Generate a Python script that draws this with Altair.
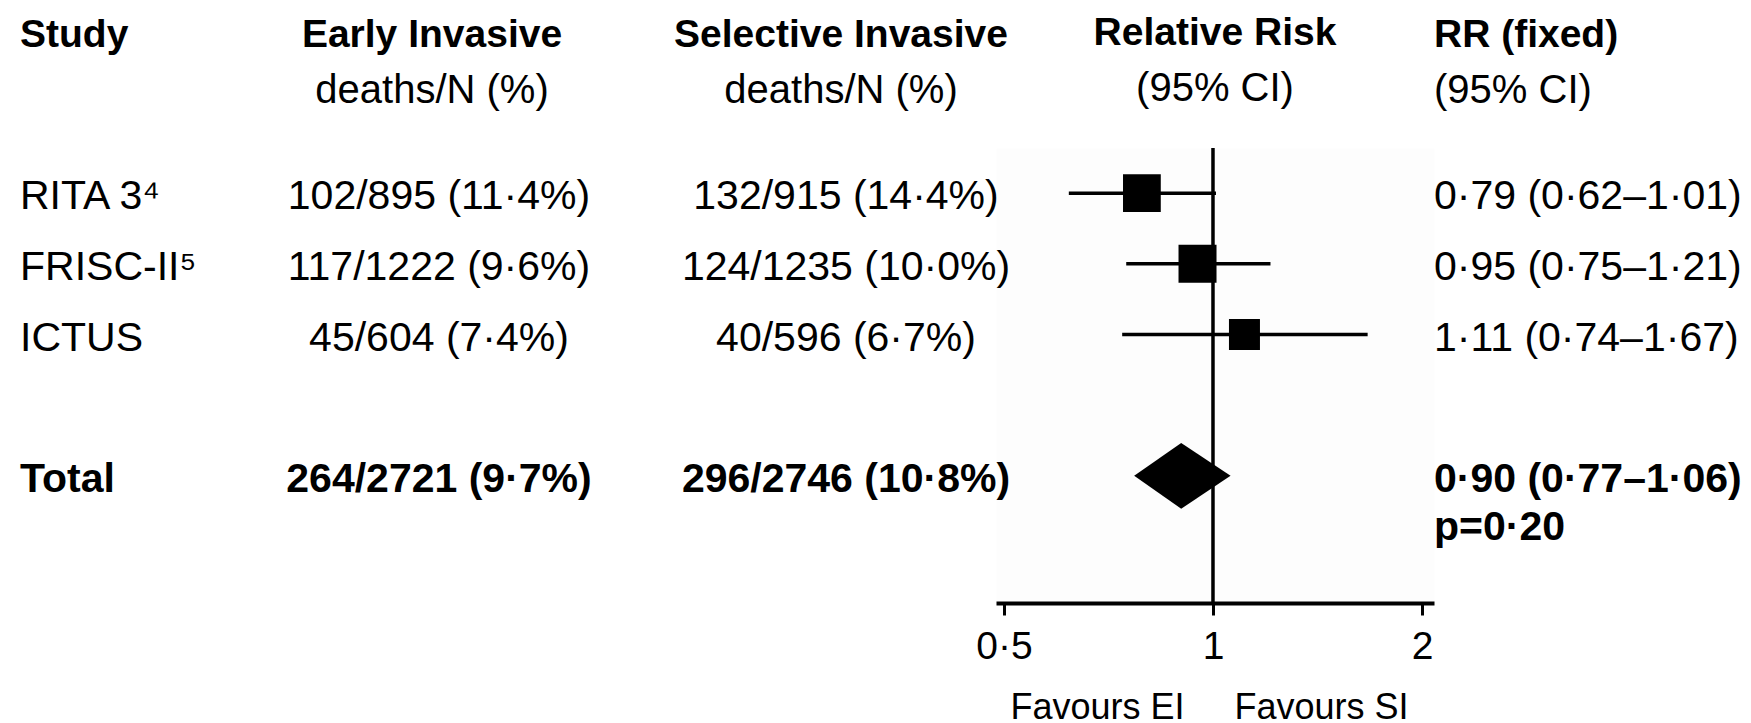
import altair as alt
import pandas as pd

# ---------------- data ----------------
studies = ["RITA 3\u2074", "FRISC-II\u2075", "ICTUS", "Total"]
row_index = [0, 1, 2, 4]
is_total = [0, 0, 0, 1]
early_invasive = ["102/895 (11·4%)", "117/1222 (9·6%)", "45/604 (7·4%)", "264/2721 (9·7%)"]
selective_invasive = ["132/915 (14·4%)", "124/1235 (10·0%)", "40/596 (6·7%)", "296/2746 (10·8%)"]
rr = [0.79, 0.95, 1.11, 0.90]
ci_low = [0.62, 0.75, 0.74, 0.77]
ci_high = [1.01, 1.21, 1.67, 1.06]
weight_pct = [42, 43, 15, 100]
rr_labels = ["0·79 (0·62–1·01)", "0·95 (0·75–1·21)", "1·11 (0·74–1·67)", "0·90 (0·77–1·06)\np=0·20"]
tick_values = [0.5, 1, 2]
axis_title = "Favours EI\u00a0\u00a0\u00a0\u00a0\u00a0Favours SI"

df = pd.DataFrame({
    "row": row_index, "study": studies, "total": is_total,
    "early": early_invasive, "selective": selective_invasive,
    "rr": rr, "lo": ci_low, "hi": ci_high, "weight": weight_pct,
    "rrtext": rr_labels,
})
trials = df[df.total == 0]
tot = df[df.total == 1].iloc[0]

DIAMOND_HALF = 0.466  # half height of the pooled diamond, in row units
diamond = pd.DataFrame({
    "x": [tot.lo, tot.rr, tot.hi],
    "y": [tot.row, tot.row - DIAMOND_HALF, tot.row],
    "y2": [tot.row, tot.row + DIAMOND_HALF, tot.row],
})
refline = pd.DataFrame({"ref": [1.0]})

# ---------------- style ----------------
FONT = "Liberation Sans"
FS = 41
H = 455
yscale = alt.Scale(domain=[-0.64, 5.8], reverse=True, nice=False, zero=False)
Y = alt.Y("row:Q", scale=yscale, axis=None)


def ttl(text, sub, anchor):
    return alt.TitleParams(
        text=text, subtitle=sub, anchor=anchor, frame="group",
        font=FONT, fontSize=39, fontWeight="bold", color="black",
        subtitleFont=FONT, subtitleFontSize=40, subtitleColor="black",
        subtitleFontWeight="normal", subtitlePadding=16, offset=37,
    )


def text_panel(field, width, xpos, align, title):
    base = alt.Chart(df).encode(x=alt.value(xpos), y=Y, text=f"{field}:N")
    normal = base.transform_filter("datum.total == 0").mark_text(
        align=align, baseline="alphabetic", dy=16, font=FONT, fontSize=FS, color="black")
    bold = base.transform_filter("datum.total == 1").mark_text(
        align=align, baseline="alphabetic", dy=16, font=FONT, fontSize=FS, color="black",
        fontWeight="bold", lineBreak="\n", lineHeight=48)
    return alt.layer(normal, bold).properties(width=width, height=H, title=title)


study_p = text_panel("study", 158, 0, "left", ttl("Study", "\u00a0", "start"))
early_p = text_panel("early", 508, 261, "center", ttl("Early Invasive", "deaths/N (%)", "middle"))
sel_p = text_panel("selective", 310, 160, "center", ttl("Selective Invasive", "deaths/N (%)", "middle"))
rr_p = text_panel("rrtext", 307, 0, "left", ttl("RR (fixed)", "(95% CI)", "start"))

xscale = alt.Scale(type="log", domain=[0.487, 2.081], nice=False)
xaxis = alt.Axis(
    values=tick_values, labelExpr="replace(format(datum.value, '~g'), '.', '·')",
    grid=False, domainColor="black", domainWidth=4, tickColor="black", tickWidth=3,
    tickSize=12, labelFont=FONT, labelFontSize=39, labelColor="black", labelPadding=12,
    labelFlush=False, labelOverlap=False, title=axis_title, titleFont=FONT,
    titleFontSize=36, titleFontWeight="normal", titleColor="black",
    titleBaseline="alphabetic", titlePadding=52, titleX=213, titleAlign="center",
)

whisk = alt.Chart(trials).mark_rule(color="black", strokeWidth=3.5).encode(
    x=alt.X("lo:Q", scale=xscale, axis=xaxis), x2="hi:Q", y=Y)
squares = alt.Chart(trials).mark_square(color="black", opacity=1, filled=True).encode(
    x=alt.X("rr:Q", scale=xscale, axis=xaxis), y=Y,
    size=alt.Size("weight:Q", scale=alt.Scale(domain=[15, 43], range=[961, 1444], zero=False), legend=None))
diam = alt.Chart(diamond).mark_area(color="black", opacity=1, interpolate="linear").encode(
    x=alt.X("x:Q", scale=xscale, axis=xaxis),
    y=alt.Y("y:Q", scale=yscale, axis=None), y2="y2:Q")
vline = alt.Chart(refline).mark_rule(color="black", strokeWidth=3.5).encode(
    x=alt.X("ref:Q", scale=xscale, axis=xaxis))

forest_p = alt.layer(whisk, squares, diam, vline).properties(
    width=438, height=H, title=ttl("Relative Risk", "(95% CI)", "middle"),
    view=alt.ViewBackground(fill="black", fillOpacity=0.008, stroke="transparent"))

chart = alt.hconcat(study_p, early_p, sel_p, forest_p, rr_p, spacing=0, bounds="flush").properties(
    padding={"left": 11, "top": 5, "right": 0, "bottom": 0},
    background="white",
).configure(font=FONT, view=alt.ViewConfig(stroke="transparent"))

chart.save("out.html", embed_options={"renderer": "svg", "actions": False})
